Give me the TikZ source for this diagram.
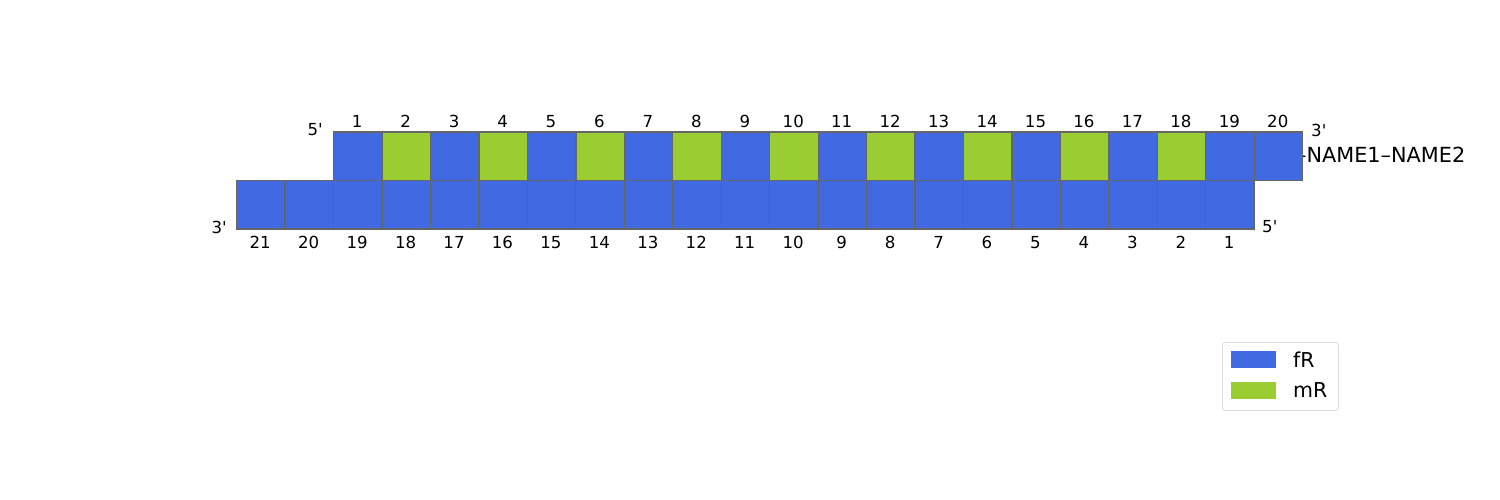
\documentclass[tikz,border=0pt]{standalone}
\usepackage{fontspec}
\setmainfont{DejaVu Sans}
\newfontfamily\dv{DejaVu Sans}
\definecolor{fRc}{HTML}{4169E1}
\definecolor{mRc}{HTML}{9ACD32}
\definecolor{edgec}{HTML}{666666}
\begin{document}
\begin{tikzpicture}[x=1pt,y=-1pt,
  nt/.style={draw=edgec,line width=1.3pt,minimum width=48.45pt,minimum height=48.45pt,inner sep=0pt,anchor=north west},
  lab/.style={font=\dv\fontsize{16.6}{18}\selectfont,inner sep=0pt},
  legtxt/.style={font=\dv\fontsize{20.5}{22}\selectfont,inner sep=0pt,anchor=west}]
\useasboundingbox (0,0) rectangle (1500,500);
% name label (drawn first so the box covers the start of the dash)
\node[font=\dv\fontsize{20.8}{24}\selectfont,inner sep=0pt,anchor=west] (name) at (1296,155) {–NAME1–NAME2};
% top strand
\foreach \i in {1,...,20}{
  \pgfmathtruncatemacro{\ev}{mod(\i,2)}
  \ifnum\ev=0 \def\cc{mRc}\else\def\cc{fRc}\fi
  \ifnum\i=20 \def\cc{fRc}\fi
  \node[nt,fill=\cc] (t\i) at ({333+(\i-1)*48.45},131.5) {};
  \node[lab] (tl\i) at ({333+(\i-0.5)*48.45},121.5) {\i};
}
% bottom strand
\foreach \j in {0,...,20}{
  \pgfmathtruncatemacro{\n}{21-\j}
  \node[nt,fill=fRc] (b\j) at ({236+\j*48.45},180) {};
  \node[lab] (bl\j) at ({236+(\j+0.5)*48.45},242.5) {\n};
}
\node[lab,anchor=east] (p5a) at (323,130) {5'};
\node[lab,anchor=west] (p3a) at (1311,130) {3'};
\node[lab,anchor=east] (p3b) at (227,227) {3'};
\node[lab,anchor=west] (p5b) at (1262,227) {5'};
% legend
\node[draw=black!15,line width=0.8pt,rounded corners=3pt,minimum width=116pt,minimum height=68pt,anchor=north west,inner sep=0pt] (leg) at (1222,342) {};
\node[fill=fRc,minimum width=45pt,minimum height=16.5pt,inner sep=0pt,anchor=north west] (lf) at (1231,351) {};
\node[fill=mRc,minimum width=45pt,minimum height=16.5pt,inner sep=0pt,anchor=north west] (lm) at (1231,382) {};
\node[legtxt] (lft) at (1293,359.5) {fR};
\node[legtxt] (lmt) at (1293,390.5) {mR};
\end{tikzpicture}
\end{document}
